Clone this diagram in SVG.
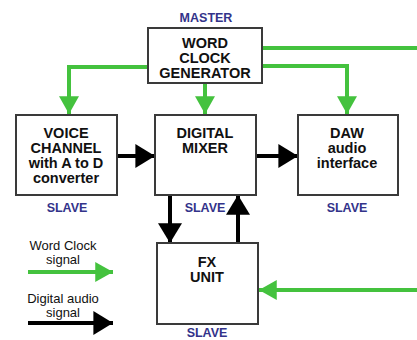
<svg xmlns="http://www.w3.org/2000/svg" width="417" height="340" viewBox="0 0 417 340">
  <style>
    .box { fill: #ffffff; stroke: #3a3a3a; stroke-width: 2; }
    .title { font-family: "Liberation Sans", Arial, sans-serif; font-weight: bold; font-size: 14.5px; fill: #111111; text-anchor: middle; }
    .role { font-family: "Liberation Sans", Arial, sans-serif; font-weight: bold; font-size: 12.5px; fill: #33338a; text-anchor: middle; }
    .legend { font-family: "Liberation Sans", Arial, sans-serif; font-size: 13px; fill: #111111; text-anchor: middle; }
    .clock { fill: none; stroke: #44c23e; stroke-width: 4; }
    .audio { fill: none; stroke: #000000; stroke-width: 4; }
  </style>
  <defs>
    <marker id="greenHead" markerUnits="userSpaceOnUse" markerWidth="18" markerHeight="20" refX="16" refY="9" orient="auto" viewBox="0 0 16 18">
      <path d="M0,0 L16,9 L0,18 Z" fill="#44c23e"/>
    </marker>
    <marker id="blackHead" markerUnits="userSpaceOnUse" markerWidth="20" markerHeight="24" refX="18" refY="11" orient="auto" viewBox="0 0 18 22">
      <path d="M0,0 L18,11 L0,22 Z" fill="#000000"/>
    </marker>
  </defs>

  <rect width="417" height="340" fill="#ffffff"/>

  <!-- connectors -->
  <g id="connectors">
    <!-- word clock distribution -->
    <path class="clock" d="M148,67 H69 V114" marker-end="url(#greenHead)"/>
    <path class="clock" d="M205,83 V114" marker-end="url(#greenHead)"/>
    <path class="clock" d="M262,66 H347 V114" marker-end="url(#greenHead)"/>
    <path class="clock" d="M262,48 H420"/>
    <path class="clock" d="M420,290 H259" marker-end="url(#greenHead)"/>
    <!-- digital audio paths -->
    <path class="audio" d="M117,156 H155" marker-end="url(#blackHead)"/>
    <path class="audio" d="M257,156 H298" marker-end="url(#blackHead)"/>
    <path class="audio" d="M170,196 V243" marker-end="url(#blackHead)"/>
    <path class="audio" d="M238,242 V195" marker-end="url(#blackHead)"/>
  </g>

  <g id="word-clock-generator">
    <text class="role" x="206" y="22">MASTER</text>
    <rect class="box" x="148" y="28" width="114" height="55"/>
    <text class="title" x="205" y="48">WORD</text>
    <text class="title" x="205" y="63">CLOCK</text>
    <text class="title" x="205" y="78">GENERATOR</text>
  </g>

  <g id="voice-channel">
    <rect class="box" x="16" y="115" width="101" height="80"/>
    <text class="title" x="66" y="138">VOICE</text>
    <text class="title" x="66" y="153">CHANNEL</text>
    <text class="title" x="66" y="168">with A to D</text>
    <text class="title" x="66" y="183">converter</text>
    <text class="role" x="67" y="212">SLAVE</text>
  </g>

  <g id="digital-mixer">
    <rect class="box" x="155" y="115" width="101" height="80"/>
    <text class="title" x="205" y="138">DIGITAL</text>
    <text class="title" x="205" y="153">MIXER</text>
    <text class="role" x="205" y="212">SLAVE</text>
  </g>

  <g id="daw-interface">
    <rect class="box" x="298" y="115" width="100" height="80"/>
    <text class="title" x="347" y="138">DAW</text>
    <text class="title" x="347" y="153">audio</text>
    <text class="title" x="347" y="168">interface</text>
    <text class="role" x="347" y="212">SLAVE</text>
  </g>

  <g id="fx-unit">
    <rect class="box" x="157" y="243" width="101" height="81"/>
    <text class="title" x="207" y="267">FX</text>
    <text class="title" x="207" y="282">UNIT</text>
    <text class="role" x="207" y="337">SLAVE</text>
  </g>

  <g id="legend">
    <text class="legend" x="63" y="250">Word Clock</text>
    <text class="legend" x="63" y="264">signal</text>
    <path class="clock" d="M28,272 H113" marker-end="url(#greenHead)"/>
    <text class="legend" x="63" y="303">Digital audio</text>
    <text class="legend" x="63" y="317">signal</text>
    <path class="audio" d="M28,323 H113" marker-end="url(#blackHead)"/>
  </g>
</svg>
